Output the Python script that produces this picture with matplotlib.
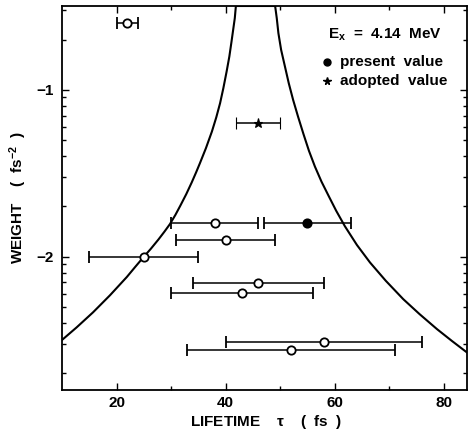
import matplotlib
matplotlib.use('Agg')
import matplotlib.pyplot as plt
import numpy as np
from matplotlib.ticker import FixedLocator, FixedFormatter

plt.rcParams['font.family'] = ['Liberation Sans', 'DejaVu Sans']
plt.rcParams['font.weight'] = 'bold'
plt.rcParams['mathtext.default'] = 'regular'

# single lifetime measurements: tau (fs), error (fs), log10 weight (fs^-2)
tau_open = [22, 38, 40, 25, 46, 43, 58, 52]
err_open = [2, 8, 9, 10, 12, 13, 18, 19]
logw_open = [-0.60, -1.80, -1.90, -2.00, -2.16, -2.22, -2.51, -2.56]

tau_present = [55]
err_present = [8]
logw_present = [-1.80]

tau_adopted = [46]
err_adopted = [4]
logw_adopted = [-1.20]

# envelope curve (left branch, clipped top, right branch)
curve_tau = [10.0, 12.7, 15.7, 18.8, 21.9, 23.4, 24.9, 26.3, 27.7, 28.8, 29.8, 30.8,
             31.7, 32.8, 33.8, 34.6, 35.3, 36.4, 37.5, 38.3, 39.0, 39.6, 40.2, 40.7,
             41.1, 41.4, 41.7, 41.9,
             49.1, 49.4, 49.7, 50.2, 50.9, 51.6, 52.4, 53.3, 54.3, 55.3, 56.4, 57.6,
             58.9, 60.3, 61.9, 64.1, 66.5, 69.4, 72.6, 75.6, 78.8, 81.5, 84.3]
curve_logw = [-2.50, -2.424, -2.334, -2.232, -2.122, -2.063, -2.005, -1.953, -1.897, -1.85,
              -1.805, -1.75, -1.695, -1.625, -1.555, -1.495, -1.44, -1.35, -1.25, -1.165,
              -1.08, -0.99, -0.89, -0.80, -0.71, -0.64, -0.57, -0.497,
              -0.497, -0.57, -0.66, -0.76, -0.86, -0.96, -1.06, -1.16, -1.265, -1.365,
              -1.46, -1.55, -1.635, -1.725, -1.818, -1.93, -2.035, -2.145, -2.255, -2.345,
              -2.435, -2.505, -2.575]

fig = plt.figure(figsize=(4.68, 4.34), dpi=100)
ax = fig.add_axes([62 / 468, 44 / 434, 405 / 468, 384 / 434])

ax.plot(curve_tau, curve_logw, color='black', lw=1.5, solid_joinstyle='round')

eb = dict(ecolor='black', elinewidth=1.1, capsize=4.5, capthick=1.1, ms=6, mew=1.3, ls='none')
ax.errorbar(tau_open, logw_open, xerr=err_open, fmt='o', mfc='white', mec='black', **eb)
ax.errorbar(tau_present, logw_present, xerr=err_present, fmt='o', mfc='black', mec='black', **eb)
ax.errorbar(tau_adopted, logw_adopted, xerr=err_adopted, fmt='*', mfc='black', mec='black',
            **{**eb, 'ms': 6.5, 'mew': 0.8})

ax.set_xlim(10, 84.3)
ax.set_ylim(-2.80, -0.497)

ax.xaxis.set_major_locator(FixedLocator([20, 40, 60, 80]))
ax.xaxis.set_minor_locator(FixedLocator([30, 50, 70]))
ax.yaxis.set_major_locator(FixedLocator([-2, -1]))
ax.yaxis.set_major_formatter(FixedFormatter(['\u22122', '\u22121']))
minor_y = [n + np.log10(k) for n in (-3, -2, -1) for k in range(2, 10)]
ax.yaxis.set_minor_locator(FixedLocator(minor_y))

ax.tick_params(which='both', direction='in', top=True, right=True, width=1.0)
ax.tick_params(which='major', length=5, labelsize=11)
ax.tick_params(axis='x', which='major', pad=4)
ax.tick_params(axis='y', which='major', pad=6)
ax.tick_params(which='minor', length=3)
for s in ax.spines.values():
    s.set_linewidth(1.3)

fig.text(266 / 468, 1 - 422 / 434, 'LIFETIME    $\\tau$    (  fs  )', ha='center', va='center',
         fontsize=11, fontweight='bold')
fig.text(18 / 468, 1 - 198 / 434, 'WEIGHT    (  fs$^{-2}$  )', ha='center', va='center',
         rotation=90, fontsize=11, fontweight='bold')

# legend block
ax.text(0.657, 0.924, 'E$_{x}$  =  4.14  MeV', transform=ax.transAxes, ha='left', va='center',
        fontsize=11, fontweight='bold')
ax.plot([0.654], [0.854], 'o', color='black', ms=5, transform=ax.transAxes, clip_on=False)
ax.text(0.686, 0.854, 'present  value', transform=ax.transAxes, ha='left', va='center',
        fontsize=11, fontweight='bold')
ax.plot([0.654], [0.805], '*', color='black', ms=5.5, transform=ax.transAxes, clip_on=False)
ax.text(0.686, 0.805, 'adopted  value', transform=ax.transAxes, ha='left', va='center',
        fontsize=11, fontweight='bold')

fig.savefig('out.png', dpi=100)
